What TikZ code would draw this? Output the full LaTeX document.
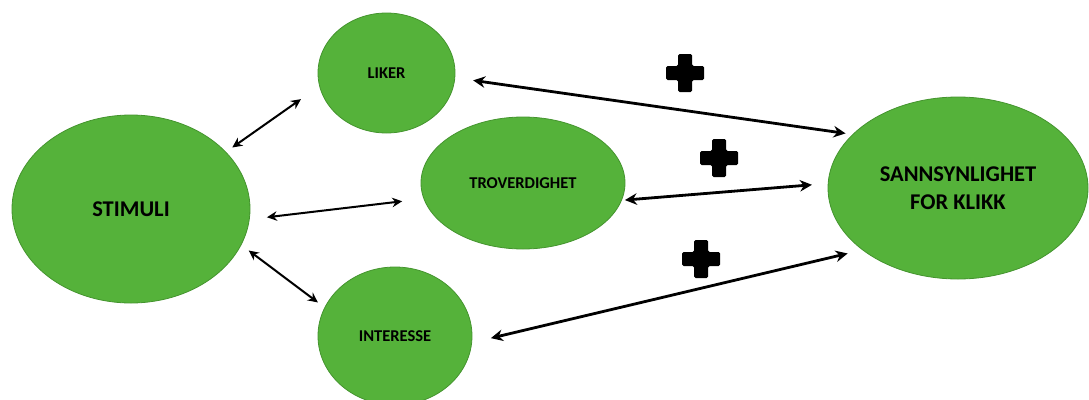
\documentclass[tikz,border=0pt]{standalone}
\usepackage{fontspec}
\setmainfont{Carlito}
\usepackage{tikz}
\usetikzlibrary{arrows.meta, shapes.geometric}

\definecolor{gronn}{RGB}{85,178,58}
\definecolor{gronnkant}{RGB}{68,148,46}

\begin{document}
\begin{tikzpicture}[
    x=1pt, y=-1pt,
    boble/.style={draw=gronnkant, line width=0.8pt, fill=gronn, ellipse, inner sep=0pt, outer sep=0pt, align=center},
    liten/.style={font=\bfseries\fontsize{16.5}{20}\selectfont},
    stor/.style={font=\bfseries\fontsize{22.5}{28}\selectfont},
    pil/.style={{Stealth[length=10pt,width=9.5pt]}-{Stealth[length=10pt,width=9.5pt]}, line width=2pt},
    piltykk/.style={{Stealth[length=12pt,width=11.5pt]}-{Stealth[length=12pt,width=11.5pt]}, line width=2.8pt},
    pluss/.pic={\fill[rounded corners=1.5pt] (-19,-7) -- (-7,-7) -- (-7,-19) -- (7,-19) -- (7,-7) -- (19,-7)
        -- (19,7) -- (7,7) -- (7,19) -- (-7,19) -- (-7,7) -- (-19,7) -- cycle;}
]
\useasboundingbox (0,0) rectangle (1089,399);

% Bobler
\node[boble, stor, minimum width=238pt, minimum height=188pt] (stimuli) at (131,209) {STIMULI};
\node[boble, liten, minimum width=137pt, minimum height=120pt] (liker) at (386.5,73) {LIKER};
\node[boble, liten, minimum width=204pt, minimum height=132pt] (trov) at (523,183) {TROVERDIGHET};
\node[boble, liten, minimum width=154pt, minimum height=138pt] (interesse) at (395,336) {INTERESSE};
\node[boble, stor, minimum width=260pt, minimum height=182pt] (klikk) at (958,188) {SANNSYNLIGHET\\FOR KLIKK};

% Stimuli til mellomledd
\draw[pil, shorten <=8pt, shorten >=22.8pt] (stimuli.31) -- (liker.191);
\draw[pil, shorten <=17.8pt, shorten >=21.9pt] (stimuli.-5) -- (trov.189);
\draw[pil, shorten <=9.6pt, shorten >=8.6pt] (stimuli.-18) -- (interesse.158);

% Mellomledd til klikk
\draw[piltykk, shorten <=18.5pt, shorten >=7.4pt] (liker.-4) -- (klikk.153);
\draw[piltykk, shorten <=3.5pt, shorten >=16.3pt] (trov.-10) -- (klikk.178);
\draw[piltykk, shorten <=19.8pt, shorten >=15.5pt] (interesse.-5) -- (klikk.213);

% Plusstegn
\pic (pluss1) at (685,73) {pluss};
\pic (pluss2) at (719,158) {pluss};
\pic (pluss3) at (701,259) {pluss};

\end{tikzpicture}
\end{document}
